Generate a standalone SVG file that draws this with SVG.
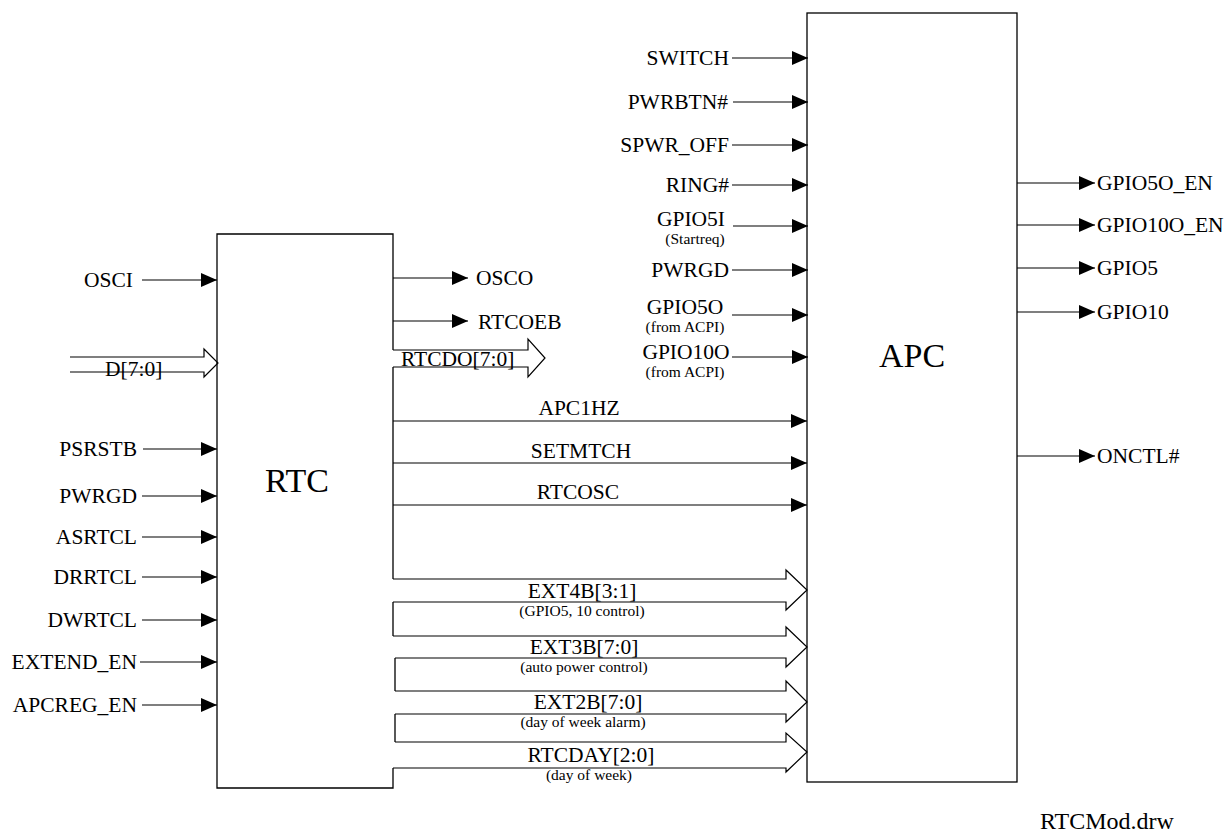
<svg xmlns="http://www.w3.org/2000/svg" width="1232" height="839" viewBox="0 0 1232 839">
<defs>
<marker id="ah" markerUnits="userSpaceOnUse" markerWidth="16" markerHeight="14" refX="16" refY="7" orient="auto">
<path d="M0,0 L16,7 L0,14 z" fill="#000"/>
</marker>
<style>
text{font-family:"Liberation Serif","Times New Roman",serif;fill:#000}
.l{font-size:21.5px}
.s{font-size:15.5px}
.big{font-size:34px}
.e{text-anchor:end}
.m{text-anchor:middle}
.box{fill:none;stroke:#000;stroke-width:1.3}
.w{fill:none;stroke:#000;stroke-width:1.2}
.a{stroke:#000;stroke-width:1.2;fill:none;marker-end:url(#ah)}
</style>
</defs>
<rect width="1232" height="839" fill="#fff"/>

<g id="rtc">
<path class="box" d="M393,350 L393,234 L217,234 L217,788 L393,788 L393,768 M393,367 L393,579 M393,602 L393,636 M395,658 L395,691 M395,714 L395,742"/>
<text class="big m" x="297" y="492">RTC</text>
</g>

<g id="apc">
<rect class="box" x="807" y="13" width="210" height="769"/>
<text class="big m" x="912" y="367">APC</text>
</g>

<g id="connectors">
<line class="a" x1="142" y1="280" x2="217" y2="280"/>
<line class="a" x1="143" y1="449" x2="217" y2="449"/>
<line class="a" x1="142" y1="496" x2="217" y2="496"/>
<line class="a" x1="142" y1="537" x2="217" y2="537"/>
<line class="a" x1="142" y1="577" x2="217" y2="577"/>
<line class="a" x1="142" y1="620" x2="217" y2="620"/>
<line class="a" x1="140" y1="662" x2="217" y2="662"/>
<line class="a" x1="142" y1="705" x2="217" y2="705"/>
<path class="w" d="M70,357 L204,357 L204,349 L218,363 L204,377 L204,372 L70,372"/>
<line class="a" x1="393" y1="278" x2="468" y2="278"/>
<line class="a" x1="393" y1="321" x2="468" y2="321"/>
<path class="w" d="M393,350 L528,350 L528,339 L545,358 L528,377 L528,367 L393,367"/>
<line class="a" x1="393" y1="421" x2="807" y2="421"/>
<line class="a" x1="393" y1="463" x2="807" y2="463"/>
<line class="a" x1="393" y1="505" x2="807" y2="505"/>
<path class="w" d="M393,579 L786,579 L786,570 L807,590 L786,610 L786,602 L393,602"/>
<path class="w" d="M393,636 L786,636 L786,627 L807,647 L786,667 L786,658 L395,658"/>
<path class="w" d="M395,691 L786,691 L786,681 L807,702 L786,722 L786,714 L395,714"/>
<path class="w" d="M395,742 L786,742 L786,733 L807,752 L786,772 L786,768 L393,768"/>
<line class="a" x1="732" y1="58" x2="808" y2="58"/>
<line class="a" x1="733" y1="102" x2="808" y2="102"/>
<line class="a" x1="732" y1="145" x2="808" y2="145"/>
<line class="a" x1="732" y1="185" x2="808" y2="185"/>
<line class="a" x1="733" y1="226" x2="808" y2="226"/>
<line class="a" x1="732" y1="270" x2="808" y2="270"/>
<line class="a" x1="732" y1="315" x2="808" y2="315"/>
<line class="a" x1="732" y1="357" x2="808" y2="357"/>
<line class="a" x1="1017" y1="183" x2="1095" y2="183"/>
<line class="a" x1="1017" y1="225" x2="1095" y2="225"/>
<line class="a" x1="1017" y1="268" x2="1095" y2="268"/>
<line class="a" x1="1017" y1="312" x2="1095" y2="312"/>
<line class="a" x1="1017" y1="456" x2="1095" y2="456"/>
</g>

<g id="labels">
<text class="l e" x="133" y="287">OSCI</text>
<text class="l" x="105" y="376">D[7:0]</text>
<text class="l e" x="137" y="456">PSRSTB</text>
<text class="l e" x="137" y="503">PWRGD</text>
<text class="l e" x="137" y="544">ASRTCL</text>
<text class="l e" x="137" y="584">DRRTCL</text>
<text class="l e" x="137" y="627">DWRTCL</text>
<text class="l e" x="137" y="669">EXTEND_EN</text>
<text class="l e" x="137" y="712">APCREG_EN</text>

<text class="l" x="476" y="285">OSCO</text>
<text class="l" x="478" y="329">RTCOEB</text>
<text class="l" x="401" y="366">RTCDO[7:0]</text>
<text class="l m" x="579" y="415">APC1HZ</text>
<text class="l m" x="581" y="458">SETMTCH</text>
<text class="l m" x="578" y="499">RTCOSC</text>
<text class="l m" x="582" y="598">EXT4B[3:1]</text>
<text class="s m" x="582" y="616">(GPIO5, 10 control)</text>
<text class="l m" x="584" y="654">EXT3B[7:0]</text>
<text class="s m" x="584" y="672">(auto power control)</text>
<text class="l m" x="588" y="709">EXT2B[7:0]</text>
<text class="s m" x="583" y="727">(day of week alarm)</text>
<text class="l m" x="591" y="762">RTCDAY[2:0]</text>
<text class="s m" x="589" y="780">(day of week)</text>

<text class="l e" x="729" y="65">SWITCH</text>
<text class="l e" x="728" y="109">PWRBTN#</text>
<text class="l e" x="729" y="152">SPWR_OFF</text>
<text class="l e" x="729" y="192">RING#</text>
<text class="l m" x="691" y="226">GPIO5I</text>
<text class="s m" x="695" y="244">(Startreq)</text>
<text class="l e" x="729" y="277">PWRGD</text>
<text class="l m" x="685" y="314">GPIO5O</text>
<text class="s m" x="685" y="332">(from ACPI)</text>
<text class="l m" x="686" y="359">GPIO10O</text>
<text class="s m" x="685" y="377">(from ACPI)</text>

<text class="l" x="1097" y="190">GPIO5O_EN</text>
<text class="l" x="1097" y="232">GPIO10O_EN</text>
<text class="l" x="1097" y="275">GPIO5</text>
<text class="l" x="1097" y="319">GPIO10</text>
<text class="l" x="1097" y="463">ONCTL#</text>

<text class="l" x="1040" y="829" style="font-size:24px">RTCMod.drw</text>
</g>
</svg>
